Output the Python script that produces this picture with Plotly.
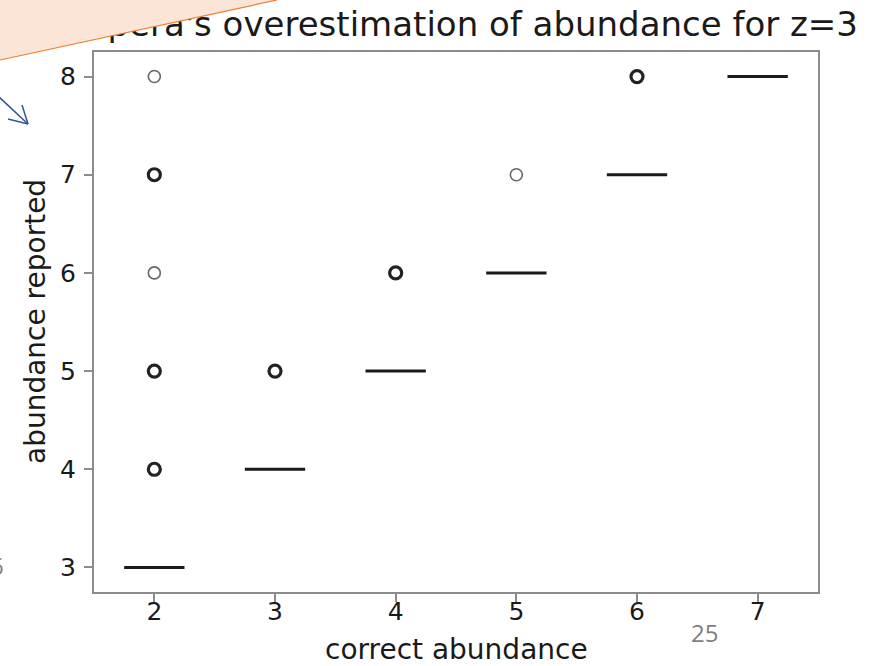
import plotly.graph_objects as go

# correct abundance categories and the reported value each collapses to
categories = [2, 3, 4, 5, 6, 7]
medians = [3, 4, 5, 6, 7, 8]

# flier points: x category, reported abundance, how many overlap there
flier_x = [2, 2, 2, 2, 2, 3, 4, 5, 6]
flier_y = [4, 5, 6, 7, 8, 5, 6, 7, 8]
flier_n = [3, 3, 1, 3, 1, 3, 4, 1, 3]

title_text = "pera's overestimation of abundance for z=3"
x_label = "correct abundance"
y_label = "abundance reported"
page_number = "25"

W, H = 881, 666
L, R, T, B = 94, 818, 52, 592
XR = [1.5, 7.5]
YR = [2.75, 8.25]

fig = go.Figure()

# each box has zero spread, so it collapses onto its median line
fig.add_trace(go.Box(
    x=categories,
    q1=medians, median=medians, q3=medians,
    lowerfence=medians, upperfence=medians,
    width=0.5,
    fillcolor="rgba(0,0,0,0)",
    line=dict(color="#1a1a1a", width=3),
    boxpoints=False,
    showlegend=False,
    hoverinfo="skip",
))

fig.add_trace(go.Scatter(
    x=flier_x, y=flier_y, mode="markers",
    marker=dict(
        symbol="circle-open",
        size=12,
        color=["#222222" if n > 1 else "#666666" for n in flier_n],
        line=dict(width=[3.2 if n > 1 else 1.6 for n in flier_n]),
    ),
    showlegend=False,
    hoverinfo="skip",
))

# full-page overlay in pixel units, used for the title so the slide
# callout (a layer="above" shape) can cover its top-left corner
fig.add_trace(go.Scatter(
    x=[858], y=[27], xaxis="x2", yaxis="y2",
    mode="text", text=[title_text], textposition="middle left",
    textfont=dict(family="DejaVu Sans", size=34, color="#1a1a1a"),
    showlegend=False, hoverinfo="skip",
))

tick_font = dict(family="DejaVu Sans", size=25, color="#1a1a1a")
label_font = dict(family="DejaVu Sans", size=28, color="#1a1a1a")
axis_common = dict(
    showgrid=False, zeroline=False, automargin=False,
    showline=True, linecolor="#8c8c8c", linewidth=2, mirror=True,
    ticks="outside", ticklen=8, tickcolor="#8c8c8c", tickwidth=1.5,
    tickfont=tick_font,
)
hidden = dict(visible=False, showgrid=False, zeroline=False, fixedrange=True)

fig.update_layout(
    width=W, height=H,
    margin=dict(l=0, r=0, t=0, b=0, autoexpand=False),
    paper_bgcolor="white", plot_bgcolor="rgba(0,0,0,0)",
    xaxis=dict(range=XR, domain=[L / W, R / W], tickmode="array",
               tickvals=categories, ticktext=[str(c) for c in categories],
               ticklabelstandoff=-12, **axis_common),
    yaxis=dict(range=YR, domain=[(H - B) / H, (H - T) / H], tickmode="array",
               tickvals=medians, ticktext=[str(v) for v in medians],
               ticklabelstandoff=3, **axis_common),
    xaxis2=dict(range=[0, W], domain=[0, 1], anchor="y2", **hidden),
    yaxis2=dict(range=[H, 0], domain=[0, 1], anchor="x2", **hidden),
)


def px(x):
    return x / W


def py(y):
    return (H - y) / H


# axis titles
fig.add_annotation(text=x_label, xref="paper", yref="paper",
                   x=px((L + R) / 2), y=py(649), xanchor="center", yanchor="middle",
                   showarrow=False, font=label_font)
fig.add_annotation(text=y_label, xref="paper", yref="paper",
                   x=px(35), y=py((T + B) / 2), xanchor="center", yanchor="middle",
                   textangle=-90, showarrow=False, font=label_font)

# peach callout in the top-left corner
fig.add_shape(
    type="path", xref="paper", yref="paper",
    path=f"M {px(-5)} {py(-5)} L {px(280)} {py(-5)} L {px(277)} {py(0)} L {px(0)} {py(60)} L {px(-5)} {py(62)} Z",
    fillcolor="#FBE5D6", line=dict(width=0), layer="above",
)
fig.add_shape(
    type="line", xref="paper", yref="paper",
    x0=px(0), y0=py(60), x1=px(277), y1=py(0),
    line=dict(color="#ED7D31", width=1.2), layer="above",
)

# blue connector arrow
arrow = dict(color="#2F5597", width=1.5)
fig.add_shape(type="line", xref="paper", yref="paper",
              x0=px(-2), y0=py(96), x1=px(28), y1=py(124), line=arrow)
fig.add_shape(type="line", xref="paper", yref="paper",
              x0=px(28), y0=py(124), x1=px(22), y1=py(105), line=arrow)
fig.add_shape(type="line", xref="paper", yref="paper",
              x0=px(28), y0=py(124), x1=px(8), y1=py(119), line=arrow)

# slide footer text
fig.add_annotation(
    text=page_number, xref="paper", yref="paper",
    x=px(704), y=py(632), xanchor="center", yanchor="middle",
    showarrow=False, font=dict(family="Open Sans", size=24, color="#7f7f7f"),
)
fig.add_annotation(
    text="6", xref="paper", yref="paper",
    x=px(6), y=py(565), xanchor="right", yanchor="middle",
    showarrow=False, font=dict(family="Open Sans", size=24, color="#7f7f7f"),
)

fig.write_html("out.html")
